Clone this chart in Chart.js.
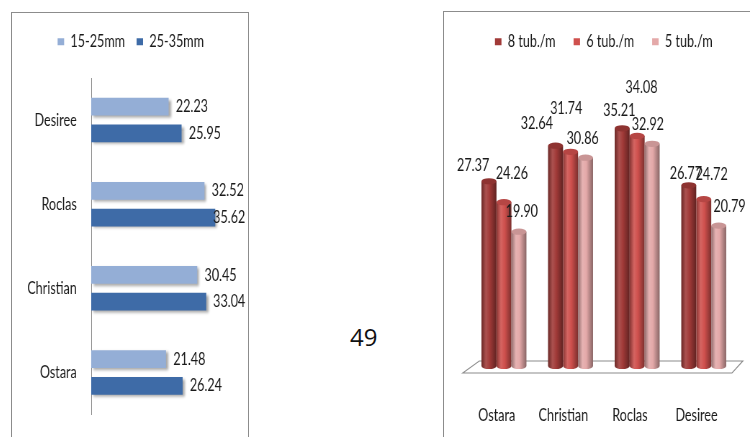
<!DOCTYPE html>
<html>
<head>
<meta charset="utf-8">
<script src="https://cdn.jsdelivr.net/npm/chart.js@4.4.0/dist/chart.umd.min.js"></script>
<style>
  html, body { margin: 0; padding: 0; background: #fff; }
  body { width: 750px; height: 437px; position: relative; overflow: hidden; }
  .frame { position: absolute; border: 1px solid #8c8c8c; box-sizing: border-box; }
  #leftFrame { left: 11px; top: 12px; width: 238px; height: 440px; }
  #rightFrame { left: 443px; top: 11px; width: 330px; height: 440px; }
  /* both charts are drawn wide and squeezed horizontally */
  canvas { position: absolute; transform: scaleX(0.72); transform-origin: 0 0; }
  #sizeChart { left: 12px; top: 13px; }
  #densityChart { left: 444px; top: 12px; }
  #pageNo { position: absolute; left: 350px; top: 325px; font: 24px/24px 'Open Sans', sans-serif; color: #111; }
</style>
</head>
<body>
<div class="frame" id="leftFrame"></div>
<div class="frame" id="rightFrame"></div>
<canvas id="sizeChart" width="326" height="424"></canvas>
<canvas id="densityChart" width="425" height="425"></canvas>
<div id="pageNo">49</div>
<script>
// tuber size classes per variety (top to bottom)
const sizeVarieties = ['Desiree', 'Roclas', 'Christian', 'Ostara'];
const size15to25 = [22.23, 32.52, 30.45, 21.48];
const size25to35 = [25.95, 35.62, 33.04, 26.24];

// planting density per variety
const densityVarieties = ['Ostara', 'Christian', 'Roclas', 'Desiree'];
const tub8 = [27.37, 32.64, 35.21, 26.77];
const tub6 = [24.26, 31.74, 34.08, 24.72];
const tub5 = [19.90, 30.86, 32.92, 20.79];

const FONT = "Lato, 'Open Sans', sans-serif";
const FONT_SIZE = 17.5;
const TEXT = '#1a1a1a';
Chart.defaults.font.family = FONT;
Chart.defaults.font.size = FONT_SIZE;
Chart.defaults.color = TEXT;

// force the legend box to a fixed height so the plot starts where we want
const legendHeight = h => ({
  id: 'legendHeight',
  beforeInit(chart) {
    const legend = chart.legend;
    const fit = legend.fit;
    legend.fit = function () {
      fit.call(this);
      this.height = h;
    };
  }
});

const barShadow = {
  id: 'barShadow',
  beforeDatasetsDraw(chart) {
    const ctx = chart.ctx;
    ctx.save();
    ctx.shadowColor = 'rgba(0,0,0,0.35)';
    ctx.shadowBlur = 3;
    ctx.shadowOffsetX = 3;
    ctx.shadowOffsetY = 2;
  },
  afterDatasetsDraw(chart) {
    chart.ctx.restore();
  }
};

// values to the right of the horizontal bars, kept inside the canvas
const sideLabels = {
  id: 'sideLabels',
  afterDatasetsDraw(chart) {
    const ctx = chart.ctx;
    ctx.save();
    ctx.font = FONT_SIZE + 'px ' + FONT;
    ctx.fillStyle = TEXT;
    ctx.textBaseline = 'middle';
    ctx.textAlign = 'left';
    chart.data.datasets.forEach((ds, i) => {
      chart.getDatasetMeta(i).data.forEach((bar, j) => {
        const text = ds.data[j].toFixed(2);
        const w = ctx.measureText(text).width;
        const x = Math.min(bar.x + 10, chart.width - 2 - w);
        ctx.fillText(text, x, bar.y);
      });
    });
    ctx.restore();
  }
};

function shade(hex, amt) {
  const n = parseInt(hex.slice(1), 16);
  const t = amt < 0 ? 0 : 255, p = Math.abs(amt);
  const mix = c => Math.round(c + (t - c) * p);
  return `rgb(${mix(n >> 16)},${mix((n >> 8) & 255)},${mix(n & 255)})`;
}

function drawCylinder(ctx, x, top, base, w, color) {
  const rx = w / 2, ry = w * 0.15;
  const left = x - rx;
  const g = ctx.createLinearGradient(left, 0, left + w, 0);
  g.addColorStop(0, shade(color, -0.35));
  g.addColorStop(0.3, shade(color, 0.12));
  g.addColorStop(0.55, color);
  g.addColorStop(1, shade(color, -0.4));
  ctx.fillStyle = g;
  ctx.beginPath();
  ctx.moveTo(left, top);
  ctx.lineTo(left, base);
  ctx.ellipse(x, base, rx, ry, 0, Math.PI, 0, true);
  ctx.lineTo(left + w, top);
  ctx.closePath();
  ctx.fill();
  ctx.fillStyle = shade(color, -0.12);
  ctx.beginPath();
  ctx.ellipse(x, top, rx, ry, 0, 0, Math.PI * 2);
  ctx.fill();
}

// 3D-looking columns standing on a flat floor
const cylinders = {
  id: 'cylinders',
  beforeDatasetsDraw(chart) {
    const { ctx, chartArea } = chart;
    const zero = chart.scales.y.getPixelForValue(0);
    ctx.save();
    ctx.beginPath();
    ctx.moveTo(chartArea.left - 11, zero + 7);
    ctx.lineTo(chartArea.left + 12, zero - 5);
    ctx.lineTo(chartArea.right + 8, zero - 5);
    ctx.lineTo(chartArea.right - 7, zero + 7);
    ctx.closePath();
    ctx.fillStyle = '#fff';
    ctx.fill();
    ctx.strokeStyle = '#8c8c8c';
    ctx.lineWidth = 1.2;
    ctx.stroke();
    chart.data.datasets.forEach((ds, i) => {
      chart.getDatasetMeta(i).data.forEach(bar => {
        const { x, y, base, width } = bar.getProps(['x', 'y', 'base', 'width'], true);
        drawCylinder(ctx, x, y, base, width, ds.backgroundColor);
      });
    });
    ctx.restore();
    return false;
  }
};

// label nudges [dx, dy] from the column top, per series and variety
const labelShift = [
  [[-22, -16], [-26, -22], [-4, -18], [-4, -12]],
  [[11, -29], [-6, -43], [6, -49], [11, -25]],
  [[4, -20], [-4, -19], [-6, -19], [15, -19]]
];

const topLabels = {
  id: 'topLabels',
  afterDraw(chart) {
    const ctx = chart.ctx;
    ctx.save();
    ctx.font = FONT_SIZE + 'px ' + FONT;
    ctx.fillStyle = TEXT;
    ctx.textBaseline = 'middle';
    ctx.textAlign = 'center';
    chart.data.datasets.forEach((ds, i) => {
      chart.getDatasetMeta(i).data.forEach((bar, j) => {
        const [dx, dy] = labelShift[i][j];
        ctx.fillText(ds.data[j].toFixed(2), bar.x + dx, bar.y + dy);
      });
    });
    ctx.restore();
  }
};

new Chart(document.getElementById('sizeChart'), {
  type: 'bar',
  data: {
    labels: sizeVarieties,
    datasets: [
      { label: '15-25mm', data: size15to25, backgroundColor: '#94AED6', borderWidth: 0, categoryPercentage: 0.635, barPercentage: 0.667 },
      { label: '25-35mm', data: size25to35, backgroundColor: '#3E6BA7', borderWidth: 0, categoryPercentage: 0.635, barPercentage: 0.667 }
    ]
  },
  options: {
    indexAxis: 'y',
    responsive: false,
    animation: false,
    layout: { padding: { left: 12, right: 8, top: 4, bottom: 19 } },
    scales: {
      x: { display: false, min: 0, max: 43 },
      y: {
        grid: { display: false },
        border: { display: true, color: '#8c8c8c' },
        ticks: { padding: 12, color: TEXT },
        afterFit(scale) { scale.width = 98; }
      }
    },
    plugins: {
      legend: { labels: { boxWidth: 9, boxHeight: 7, padding: 16, color: TEXT } },
      tooltip: { enabled: false }
    }
  },
  plugins: [legendHeight(61), barShadow, sideLabels]
});

new Chart(document.getElementById('densityChart'), {
  type: 'bar',
  data: {
    labels: densityVarieties,
    datasets: [
      { label: '8 tub./m', data: tub8, backgroundColor: '#A13A38', categoryPercentage: 0.675, barPercentage: 1 },
      { label: '6 tub./m', data: tub6, backgroundColor: '#CF504D', categoryPercentage: 0.675, barPercentage: 1 },
      { label: '5 tub./m', data: tub5, backgroundColor: '#E4A9A9', categoryPercentage: 0.675, barPercentage: 1 }
    ]
  },
  options: {
    responsive: false,
    animation: false,
    layout: { padding: { left: 37, right: 18, top: -4, bottom: 0 } },
    scales: {
      x: {
        grid: { display: false },
        border: { display: false },
        ticks: { padding: 31, labelOffset: -10, maxRotation: 0, color: TEXT },
        afterFit(scale) { scale.height = 71; }
      },
      y: { display: false, min: 0, max: 40 }
    },
    plugins: {
      legend: { labels: { boxWidth: 9, boxHeight: 7, padding: 25, color: TEXT } },
      tooltip: { enabled: false }
    }
  },
  plugins: [legendHeight(88), cylinders, topLabels]
});
</script>
</body>
</html>
